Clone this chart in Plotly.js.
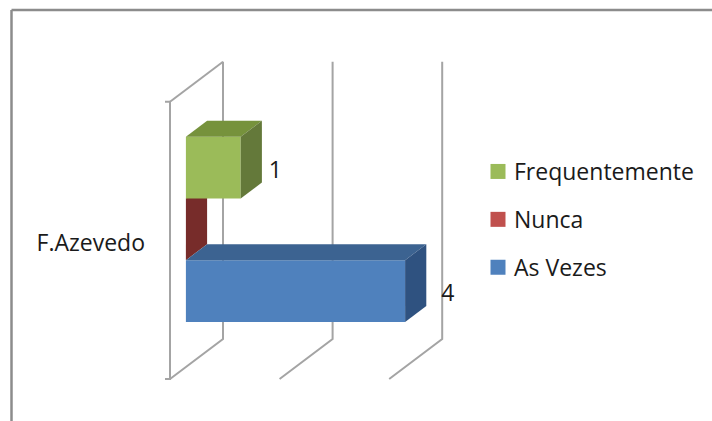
<!DOCTYPE html>
<html>
<head>
<meta charset="utf-8">
<script src="https://cdn.plot.ly/plotly-3.0.1.min.js"></script>
<style>html,body{margin:0;padding:0;background:#fff}#chart{width:712px;height:421px}</style>
</head>
<body>
<div id="chart"></div>
<script>
const category = 'F.Azevedo';
const seriesNames = ['As Vezes', 'Nunca', 'Frequentemente'];
const seriesValues = [4, 0, 1];
const frontColors = ['#4F81BD', '#C0504D', '#9BBB59'];
const topColors = ['#3C6391', '#772C2A', '#76923C'];
const sideColors = ['#2F5280', '#772C2A', '#64793A'];
const gridValues = [0, 2, 4];
const labelShift = [0.78, 0, 0.63];
const labelDrop = [4, 0, 5];

// Pseudo-3D box: the plot is a slanted floor and back wall, bars sit mid-depth.
const PLOT = {l: 160, r: 252, t: 55, b: 36};
const FONT = '"Open Sans", sans-serif';
const UNIT_PX = 54.8, BAND_PX = 277.3;
const DEPTH_X = 53 / UNIT_PX, DEPTH_Y = 40 / BAND_PX;
const FRONT = 0.3, BACK = 0.7, BAR_H = 0.2225;
const XRANGE = [-10 / UNIT_PX, 290 / UNIT_PX];
const YRANGE = [-(421 - PLOT.b - 379) / BAND_PX, (379 - PLOT.t) / BAND_PX];
const WALL = '#A4A4A4';

const px = (v, d) => v + d * DEPTH_X;
const py = (b, d) => b + d * DEPTH_Y;
const band = i => 0.5 - 1 / BAND_PX + (i - 1) * BAR_H;

function face(xs, ys, color, axes) {
  return Object.assign({type: 'scatter', mode: 'lines', x: xs, y: ys, fill: 'toself',
    fillcolor: color, line: {width: 0, color: color}, showlegend: false, hoverinfo: 'skip'}, axes || {});
}

function barParts(i, axes) {
  const v = seriesValues[i], lo = band(i) - BAR_H / 2, hi = band(i) + BAR_H / 2;
  const parts = [];
  // Front face is a real bar; the top and end faces follow the same value.
  parts.push(Object.assign({type: 'bar', orientation: 'h', x: [v], y: [py(band(i), FRONT)],
    base: px(0, FRONT), width: BAR_H, marker: {color: frontColors[i], line: {width: 0}},
    name: seriesNames[i], showlegend: false, hoverinfo: 'skip'}, axes || {}));
  parts.push(face(
    [px(0, FRONT), px(v, FRONT), px(v, BACK), px(0, BACK), px(0, FRONT)],
    [py(hi, FRONT), py(hi, FRONT), py(hi, BACK), py(hi, BACK), py(hi, FRONT)],
    topColors[i], axes));
  parts.push(face(
    [px(v, FRONT), px(v, FRONT), px(v, BACK), px(v, BACK), px(v, FRONT)],
    [py(lo, FRONT), py(hi, FRONT), py(hi, BACK), py(lo, BACK), py(lo, FRONT)],
    sideColors[i], axes));
  return parts;
}

const wallX = [], wallY = [];
gridValues.forEach(g => {
  wallX.push(px(g, 0), px(g, 1), px(g, 1), null);
  wallY.push(0, py(0, 1), py(1, 1), null);
});
// Front upright, its two tick stubs and the upper slanted edge.
const stub = -5 / UNIT_PX;
wallX.push(stub, 0, 0, stub, null, 0, px(0, 1));
wallY.push(0, 0, 1, 1, null, 1, py(1, 1));

const over = {xaxis: 'x2', yaxis: 'y2'};
const traces = [];
traces.push({type: 'scatter', mode: 'lines', x: wallX, y: wallY, cliponaxis: false,
  line: {color: WALL, width: 2}, showlegend: false, hoverinfo: 'skip'});
traces.push(...barParts(1));
traces.push(...barParts(0, over));
traces.push(...barParts(2, over));

// Value labels beside the bars that have a length.
const shown = [0, 2];
traces.push(Object.assign({type: 'scatter', mode: 'text',
  x: shown.map(i => px(seriesValues[i], FRONT) + labelShift[i]),
  y: shown.map(i => py(band(i), FRONT) - labelDrop[i] / BAND_PX),
  text: shown.map(i => String(seriesValues[i])),
  textposition: 'middle center', textfont: {family: FONT, size: 23, color: '#1a1a1a'},
  cliponaxis: false, showlegend: false, hoverinfo: 'skip'}, over));

// Legend entries, top to bottom.
[2, 1, 0].forEach(i => traces.push({type: 'scatter', mode: 'markers', x: [null], y: [null],
  name: seriesNames[i], legendgroup: seriesNames[i],
  marker: {symbol: 'square', size: 15, color: frontColors[i]}, hoverinfo: 'skip'}));

const W = 712, H = 421;
const plotW = W - PLOT.l - PLOT.r, plotH = H - PLOT.t - PLOT.b;
const paperX = p => (p - PLOT.l) / plotW;
const paperY = p => 1 - (p - PLOT.t) / plotH;
const edge = (x0, y0, x1, y1) => ({type: 'line', xref: 'paper', yref: 'paper',
  x0: paperX(x0), y0: paperY(y0), x1: paperX(x1), y1: paperY(y1),
  line: {color: '#8C8C8C', width: 2.5}});

const layout = {
  width: W, height: H,
  margin: {l: PLOT.l, r: PLOT.r, t: PLOT.t, b: PLOT.b, pad: 0, autoexpand: false},
  paper_bgcolor: '#fff', plot_bgcolor: 'rgba(0,0,0,0)',
  barmode: 'overlay', showlegend: true,
  font: {family: FONT, color: '#1a1a1a'},
  xaxis: {range: XRANGE, visible: false, fixedrange: true},
  xaxis2: {range: XRANGE, visible: false, fixedrange: true, overlaying: 'x'},
  yaxis: {range: YRANGE, fixedrange: true, showgrid: false, zeroline: false, showline: false,
    tickmode: 'array', tickvals: [0.5 - 3 / BAND_PX], ticktext: [category], ticks: '',
    ticklabelstandoff: 14, tickfont: {family: FONT, size: 23, color: '#1a1a1a'}},
  yaxis2: {range: YRANGE, visible: false, fixedrange: true, overlaying: 'y'},
  legend: {x: paperX(478), y: paperY(150), xanchor: 'left', yanchor: 'top',
    traceorder: 'grouped', tracegroupgap: 15, bgcolor: 'rgba(0,0,0,0)',
    font: {family: FONT, size: 23, color: '#1a1a1a'}},
  shapes: [edge(11.5, 10, 712, 10), edge(11.5, 10, 11.5, 421)]
};

Plotly.newPlot('chart', traces, layout, {displayModeBar: false, staticPlot: true}).then(gd => {
  // Pull the legend text a little closer to its swatch.
  gd.querySelectorAll('.legendtext').forEach(t => {
    t.setAttribute('x', parseFloat(t.getAttribute('x')) - 4);
  });
});
</script>
</body>
</html>
